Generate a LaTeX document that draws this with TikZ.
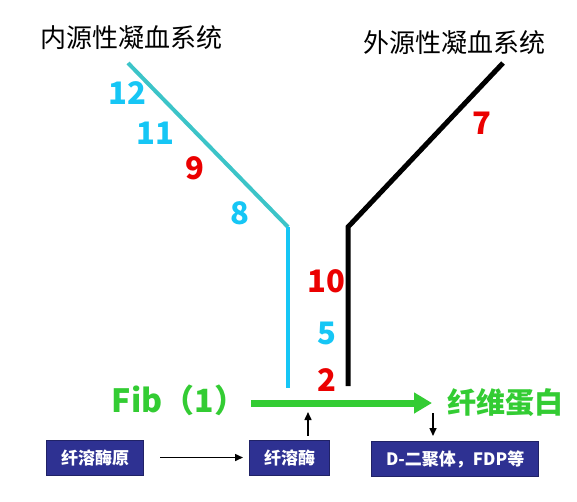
\documentclass[tikz,border=0pt]{standalone}
\usepackage{fontspec}
\newfontfamily\cjk{Noto Sans CJK SC}
\usetikzlibrary{arrows,arrows.meta,positioning}
\definecolor{teal1}{RGB}{60,196,200}
\definecolor{cyan1}{RGB}{22,198,245}
\definecolor{red1}{RGB}{235,0,0}
\definecolor{green1}{RGB}{51,204,51}
\definecolor{box1}{RGB}{46,49,146}

\begin{document}
\begin{tikzpicture}[x=1pt,y=-1pt,->,>={Triangle[length=8pt,width=7pt]},line width=1.5pt]
	\tikzstyle{title}=[font=\cjk\fontsize{26}{26}\selectfont,text=black]
	\tikzstyle{num}=[font=\cjk\bfseries\fontsize{31}{31}\selectfont]
	\tikzstyle{leg}=[-,line width=4.5pt]
	\tikzstyle{enzyme}=[fill=box1,draw=box1!70!black,line width=1pt,text=white,
		font=\cjk\bfseries\fontsize{17}{17}\selectfont,inner xsep=14.5pt,minimum height=35pt]
	\useasboundingbox (0,0) rectangle (577,501);

	\node[title] (intr) at (131,38) {内源性凝血系统};
	\node[title] (extr) at (454,43) {外源性凝血系统};

	\coordinate (i0) at (128,63);
	\coordinate (i1) at (288,227);
	\coordinate (i2) at (288,388);
	\coordinate (e0) at (503,63);
	\coordinate (e1) at (348,227);
	\coordinate (e2) at (348,386);

	\draw[leg,teal1,line width=4pt] (i0) -- (i1);
	\draw[leg,cyan1] (i1) -- (i2);
	\draw[leg,black,line width=5pt] (e0) -- (e1) -- (e2);

	\node[num,text=cyan1] (n12) at (127,93) {12};
	\node[num,text=cyan1] (n11) at (155,133) {11};
	\node[num,text=red1] (n9) at (195,168) {9};
	\node[num,text=cyan1] (n8) at (240,213) {8};
	\node[num,text=red1] (n7) at (482,123) {7};
	\node[num,text=red1] (n10) at (326,281) {10};
	\node[num,text=cyan1] (n5) at (327,333) {5};
	\node[num,text=red1] (n2) at (327,380) {2};

	\node[font=\cjk\bfseries\fontsize{32}{32}\selectfont,text=green1] (fib) at (179,400) {Fib（1）};
	\node[font=\cjk\bfseries\fontsize{29}{29}\selectfont,text=green1] (fbn) at (505,403) {纤维蛋白};
	\coordinate (a0) at (251,403);
	\coordinate (a1) at (432,403);
	\draw[-{Triangle[length=18pt,width=20pt]},green1,line width=7pt] (a0) -- (a1);

	\node[enzyme] (plg) at (95,457.5) {纤溶酶原};
	\node[enzyme] (plm) [right=105pt of plg] {纤溶酶};
	\node[enzyme] (fdp) [right=41pt of plm,yshift=-1.5pt] {D-二聚体，FDP等};

	\coordinate (up) at (308,412);
	\coordinate (dn) at (433,413);
	\draw[shorten <=16pt,shorten >=6pt] (plg) -- (plm);
	\draw[shorten <=4pt] (plm.north -| up) -- (up);
	\draw[shorten >=5pt] (dn) -- (dn |- fdp.north);
\end{tikzpicture}
\end{document}
